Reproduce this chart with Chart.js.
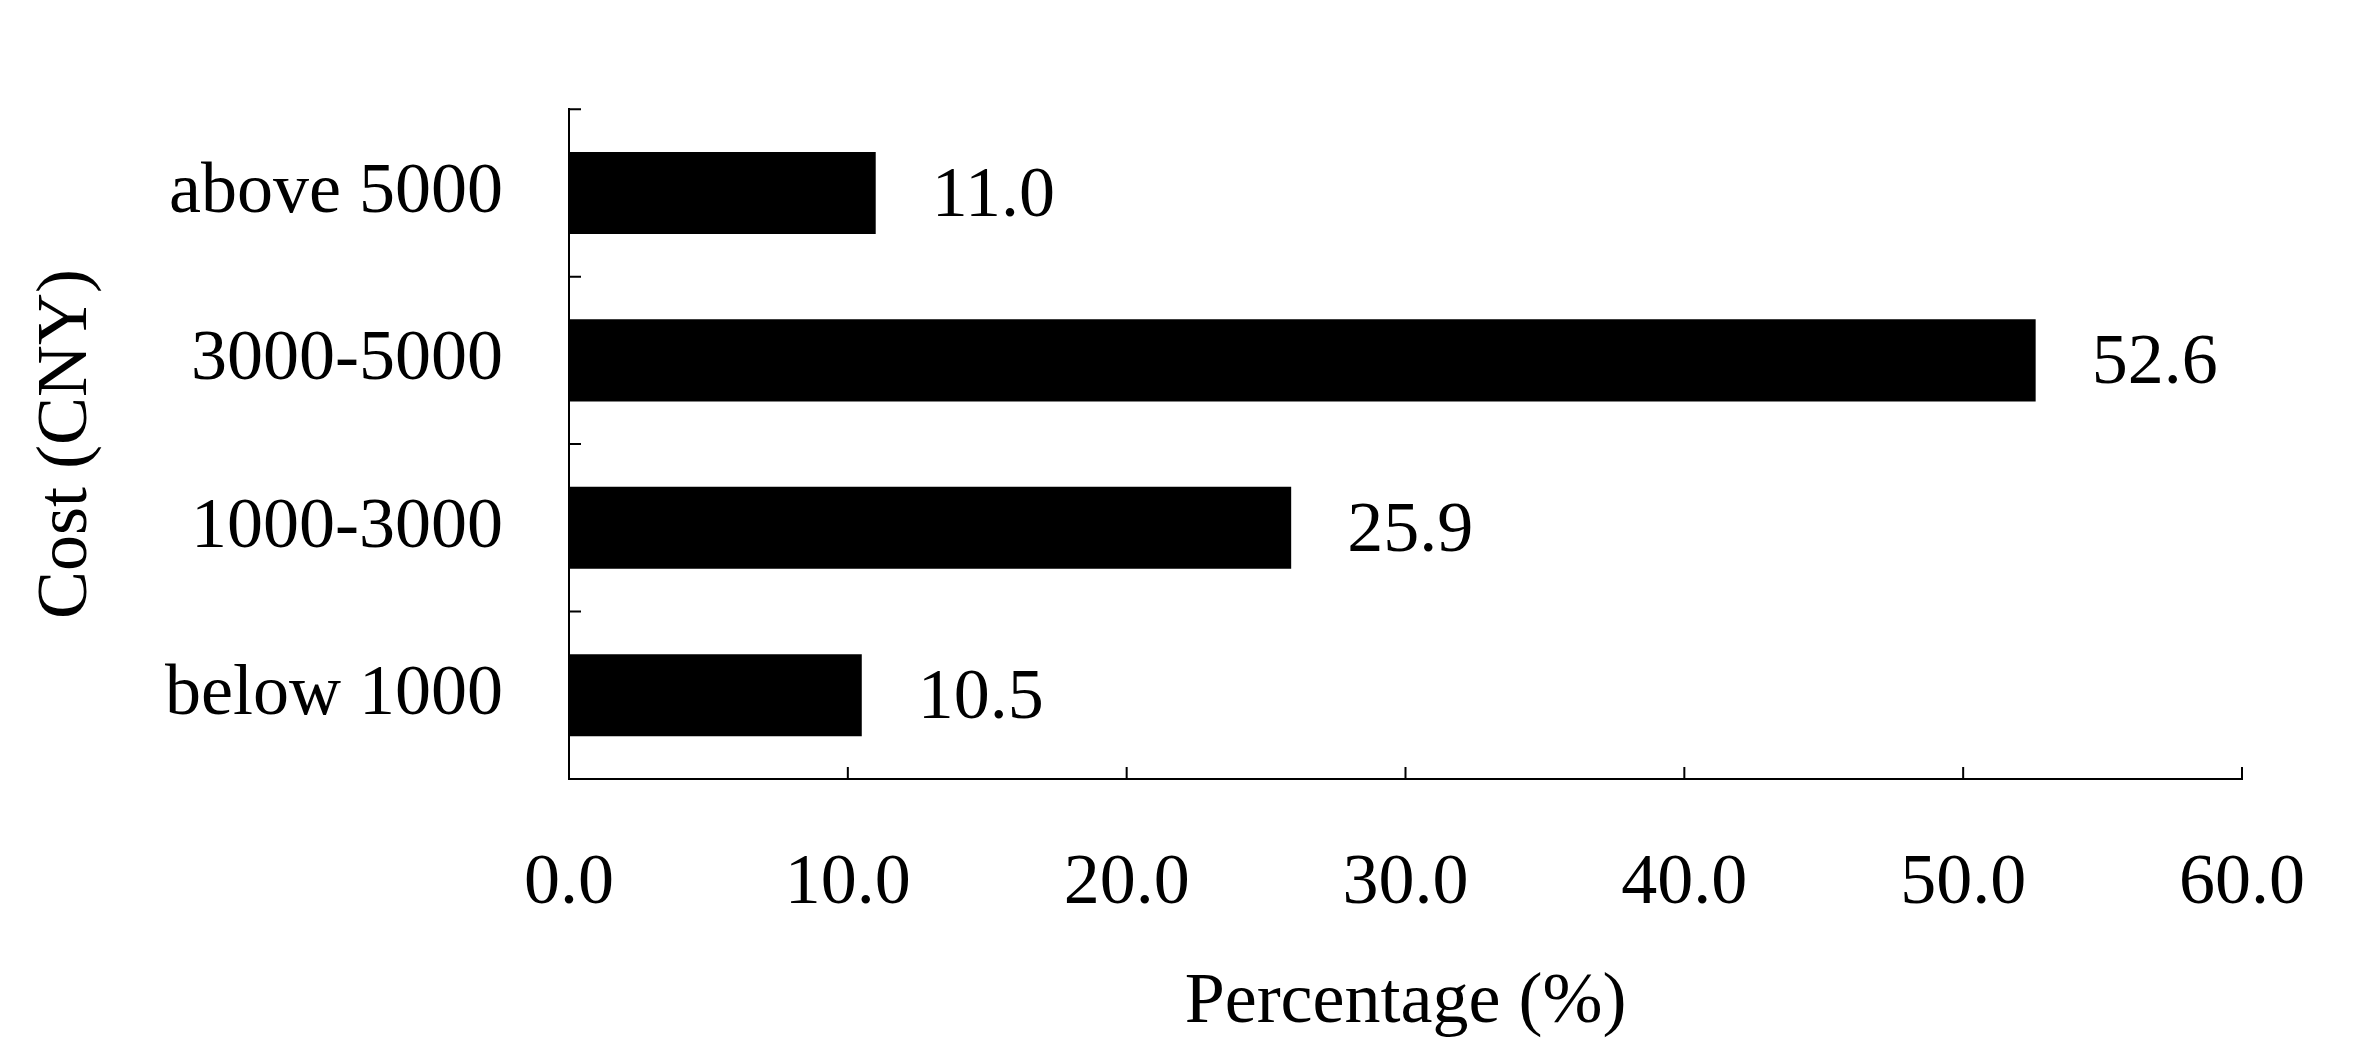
<!DOCTYPE html>
<html>
<head>
<meta charset="utf-8">
<script src="https://cdn.jsdelivr.net/npm/chart.js@4"></script>
<style>
html,body{margin:0;padding:0;background:#fff;}
#wrap{width:2367px;height:1050px;}
</style>
</head>
<body>
<div id="wrap"><canvas id="c" width="2367" height="1050"></canvas></div>
<script>
const categories = ["above 5000", "3000-5000", "1000-3000", "below 1000"];
const percentages = [11.0, 52.6, 25.9, 10.5];
const xTicks = [0, 10, 20, 30, 40, 50, 60];

const FONT = "'Liberation Serif', 'Times New Roman', serif";
const SIZE = 72;

// inward tick marks + value labels
const marksPlugin = {
  id: "marks",
  afterDraw(chart) {
    const ctx = chart.ctx;
    const x = chart.scales.x, y = chart.scales.y;
    ctx.save();
    ctx.strokeStyle = "#000";
    ctx.lineWidth = 2;
    ctx.beginPath();
    xTicks.forEach(v => {
      const px = x.getPixelForValue(v);
      ctx.moveTo(px, y.bottom);
      ctx.lineTo(px, y.bottom - 12);
    });
    const step = (y.bottom - y.top) / categories.length;
    for (let i = 0; i <= categories.length; i++) {
      const py = y.top + i * step;
      ctx.moveTo(x.left, py);
      ctx.lineTo(x.left + 12, py);
    }
    ctx.stroke();
    // value labels
    ctx.fillStyle = "#000";
    ctx.font = SIZE + "px " + FONT;
    ctx.textBaseline = "middle";
    chart.getDatasetMeta(0).data.forEach((bar, i) => {
      ctx.fillText(percentages[i].toFixed(1), bar.x + 56, bar.y + 4);
    });
    ctx.restore();
  }
};

new Chart(document.getElementById("c"), {
  type: "bar",
  data: {
    labels: categories,
    datasets: [{
      data: percentages,
      backgroundColor: "#000",
      borderWidth: 0,
      barPercentage: 0.49,
      categoryPercentage: 1
    }]
  },
  options: {
    indexAxis: "y",
    responsive: false,
    animation: false,
    layout: { padding: { top: -30, right: 0, left: 20, bottom: 0 } },
    plugins: { legend: { display: false }, tooltip: { enabled: false } },
    scales: {
      x: {
        min: 0, max: 60,
        afterBuildTicks: s => { s.ticks = xTicks.map(v => ({ value: v })); },
        afterFit: s => { s.height = 271; },
        grid: { display: false, drawTicks: false },
        border: { color: "#000", width: 2 },
        ticks: {
          padding: 62, color: "#000",
          font: { family: FONT, size: SIZE },
          callback: v => Number(v).toFixed(1)
        },
        title: {
          display: true, text: "Percentage (%)", color: "#000",
          font: { family: FONT, size: SIZE }, padding: { top: 24 }
        }
      },
      y: {
        afterFit: s => { s.width = 549; },
        grid: { display: false, drawTicks: false },
        border: { color: "#000", width: 2 },
        ticks: { padding: 66, color: "#000", font: { family: FONT, size: SIZE } },
        title: {
          display: true, text: "Cost (CNY)", color: "#000",
          font: { family: FONT, size: SIZE }, padding: { bottom: 0 }
        }
      }
    }
  },
  plugins: [marksPlugin]
});
</script>
</body>
</html>
